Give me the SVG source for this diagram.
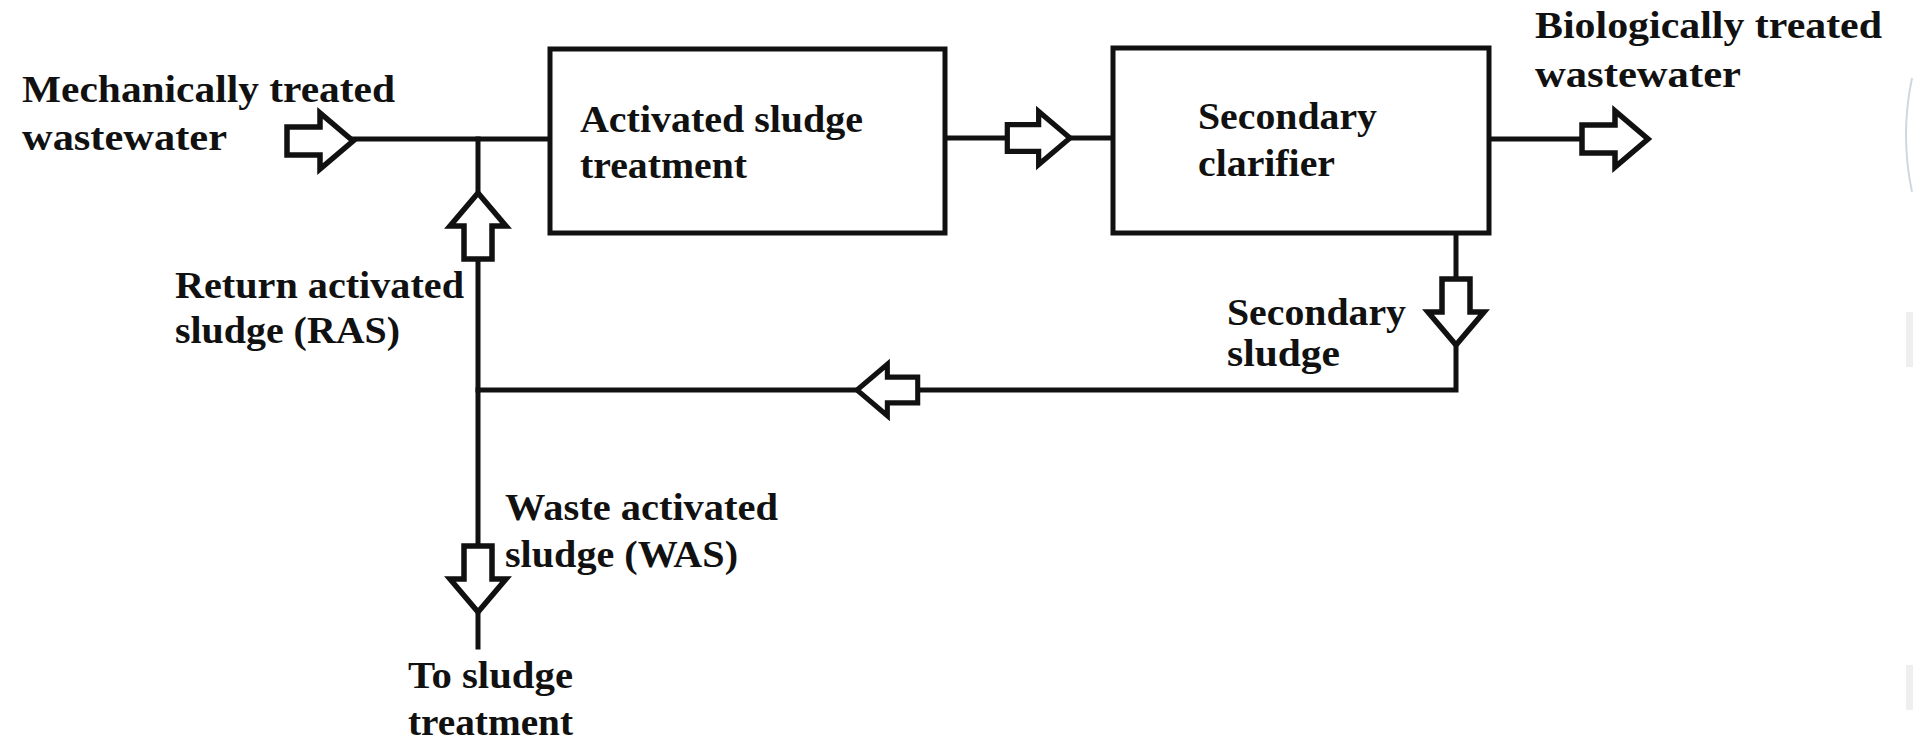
<svg xmlns="http://www.w3.org/2000/svg" width="1913" height="743" viewBox="0 0 1913 743">
  <style>
    .t { font-family: "Liberation Serif", "Times New Roman", serif; font-weight: bold; font-size: 38px; fill: #111; }
    .box { fill: #fff; stroke: #111; stroke-width: 5; }
    .ln { fill: none; stroke: #111; stroke-width: 5; stroke-linecap: square; }
    .arr { fill: #fff; stroke: #111; stroke-width: 5.5; stroke-linejoin: miter; }
  </style>
  <defs>
    <path id="blk" d="M -66,-14 H -33 V -28 L 0,0 L -33,28 V 14 H -66 Z"/>
  </defs>
  <rect x="0" y="0" width="1913" height="743" fill="#fff"/>
  <g id="background-marks">
    <path d="M 1912,78 Q 1900,135 1912,192" fill="none" stroke="#cfd8e0" stroke-width="2"/>
    <rect x="1906" y="312" width="7" height="55" fill="#efefef"/>
    <rect x="1906" y="665" width="7" height="45" fill="#efefef"/>
  </g>

  <g id="connectors">
    <path class="ln" d="M 353,139 H 550"/>
    <path class="ln" d="M 478,139 V 193"/>
    <path class="ln" d="M 478,262 V 548"/>
    <path class="ln" d="M 478,612 V 647"/>
    <path class="ln" d="M 945,138 H 1005"/>
    <path class="ln" d="M 1070,138 H 1113"/>
    <path class="ln" d="M 1489,139 H 1582"/>
    <path class="ln" d="M 1456,233 V 279"/>
    <path class="ln" d="M 1456,345 V 390 H 920"/>
    <path class="ln" d="M 857,390 H 478"/>
    <use href="#blk" class="arr" transform="translate(353,141)"/>
    <use href="#blk" class="arr" transform="translate(1070,138) scale(0.95)"/>
    <use href="#blk" class="arr" transform="translate(1648,139)"/>
    <use href="#blk" class="arr" transform="translate(478,193) rotate(-90)"/>
    <use href="#blk" class="arr" transform="translate(1456,345) rotate(90)"/>
    <use href="#blk" class="arr" transform="translate(478,612) rotate(90)"/>
    <use href="#blk" class="arr" transform="translate(857,390) rotate(180) scale(0.92)"/>
  </g>

  <g id="node-activated-sludge">
    <rect class="box" x="550" y="49" width="395" height="184"/>
    <text class="t" x="580" y="132" textLength="283" lengthAdjust="spacingAndGlyphs">Activated sludge</text>
    <text class="t" x="580" y="178" textLength="167" lengthAdjust="spacingAndGlyphs">treatment</text>
  </g>

  <g id="node-secondary-clarifier">
    <rect class="box" x="1113" y="48" width="376" height="185"/>
    <text class="t" x="1198" y="129" textLength="179" lengthAdjust="spacingAndGlyphs">Secondary</text>
    <text class="t" x="1198" y="176" textLength="137" lengthAdjust="spacingAndGlyphs">clarifier</text>
  </g>

  <g id="label-inflow">
    <text class="t" x="22" y="102" textLength="373" lengthAdjust="spacingAndGlyphs">Mechanically treated</text>
    <text class="t" x="22" y="150" textLength="205" lengthAdjust="spacingAndGlyphs">wastewater</text>
  </g>

  <g id="label-outflow">
    <text class="t" x="1535" y="38" textLength="347" lengthAdjust="spacingAndGlyphs">Biologically treated</text>
    <text class="t" x="1535" y="87" textLength="206" lengthAdjust="spacingAndGlyphs">wastewater</text>
  </g>

  <g id="label-secondary-sludge">
    <text class="t" x="1227" y="325" textLength="179" lengthAdjust="spacingAndGlyphs">Secondary</text>
    <text class="t" x="1227" y="366" textLength="113" lengthAdjust="spacingAndGlyphs">sludge</text>
  </g>

  <g id="label-ras">
    <text class="t" x="175" y="298" textLength="289" lengthAdjust="spacingAndGlyphs">Return activated</text>
    <text class="t" x="175" y="343" textLength="225" lengthAdjust="spacingAndGlyphs">sludge (RAS)</text>
  </g>

  <g id="label-was">
    <text class="t" x="505" y="520" textLength="273" lengthAdjust="spacingAndGlyphs">Waste activated</text>
    <text class="t" x="505" y="567" textLength="233" lengthAdjust="spacingAndGlyphs">sludge (WAS)</text>
  </g>

  <g id="label-sludge-treatment">
    <text class="t" x="408" y="688" textLength="165" lengthAdjust="spacingAndGlyphs">To sludge</text>
    <text class="t" x="408" y="735" textLength="165" lengthAdjust="spacingAndGlyphs">treatment</text>
  </g>
</svg>
